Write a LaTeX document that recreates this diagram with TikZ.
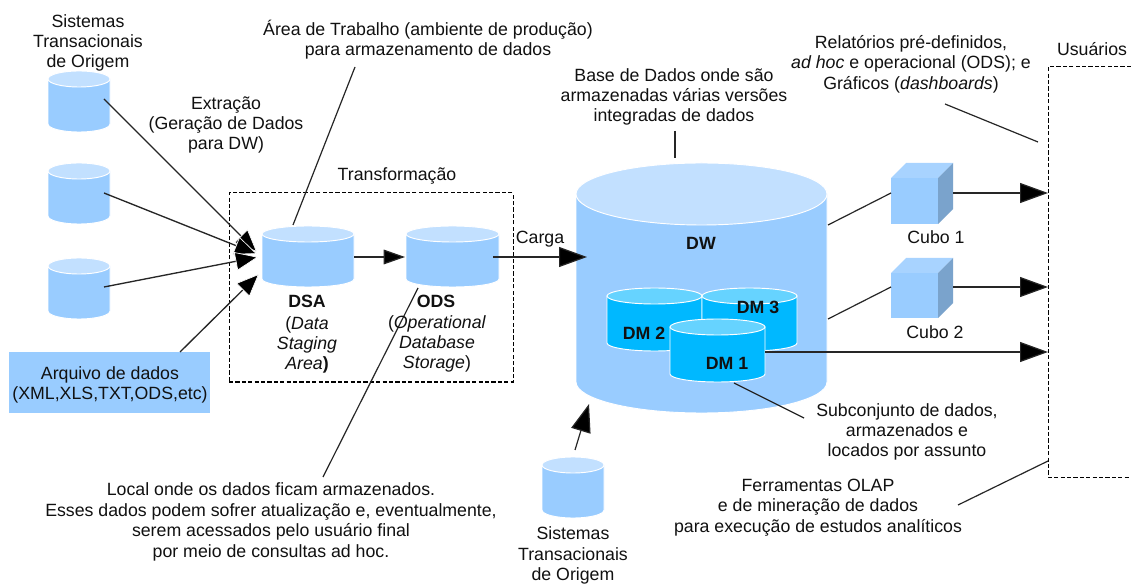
\documentclass[tikz,border=0pt]{standalone}
\usepackage{fontspec}
\setmainfont{Liberation Sans}
\usetikzlibrary{arrows.meta}
\definecolor{cylbody}{HTML}{99CCFF}
\definecolor{cyltop}{HTML}{C2E0FF}
\definecolor{dmbody}{HTML}{00B8FF}
\definecolor{dmtop}{HTML}{66D3FF}
\definecolor{cubeside}{HTML}{7AA3CC}
\definecolor{cubetop}{HTML}{A8D3FF}
\definecolor{inktext}{HTML}{111111}
\tikzset{
  x=0.75pt,y=-0.75pt,
  lbl/.style={font=\fontsize{13.3pt}{15.3pt}\selectfont,text=inktext,align=center,inner sep=0pt,anchor=center,yshift=-1.5pt},
  boldlbl/.style={lbl,font=\fontsize{13.3pt}{15.3pt}\selectfont\bfseries},
  leader/.style={draw=black!85,line width=0.9pt},
  flow/.style={draw=black!85,line width=0.9pt,-{Triangle[length=21pt,width=15pt,fill=black]}},
  smallflow/.style={draw=black!85,line width=0.9pt,-{Triangle[length=16pt,width=11pt,fill=black]}},
  bigflow/.style={draw=black!85,line width=0.9pt,-{Triangle[length=21pt,width=15pt,fill=black]}},
  extract/.style={draw=black!85,line width=1pt,-{Triangle[length=17pt,width=14pt,fill=black,color=white,line width=0.5pt]}},
  dashbox/.style={draw=black,line width=0.75pt,dash pattern=on 3.2pt off 1.6pt},
}
% \cylshape{name}{left}{right}{top}{bottom}{ry}{body}{top colour}
\newcommand{\cylshape}[8]{%
  \path[fill=#7,draw=white,line width=0.7pt]
    (#2,#4+#6) -- (#2,#5-#6) arc[start angle=180,end angle=0,x radius={(#3-#2)/2},y radius=#6]
    -- (#3,#4+#6) -- cycle;
  \path[fill=#8,draw=white,line width=0.7pt] ({(#2+#3)/2},#4+#6) ellipse[x radius={(#3-#2)/2},y radius=#6];
  \coordinate (#1) at ({(#2+#3)/2},{(#4+#5)/2});
}
% \cubeshape{name}{left}{fronttop}{bottom}
\newcommand{\cubeshape}[4]{%
  \fill[cylbody] (#2,#3) rectangle (#2+47,#4);
  \fill[cubetop] (#2,#3) -- (#2+15,#3-15) -- (#2+62,#3-15) -- (#2+47,#3) -- cycle;
  \fill[cubeside] (#2+47,#3) -- (#2+62,#3-15) -- (#2+62,#4-15) -- (#2+47,#4) -- cycle;
  \coordinate (#1) at (#2+23,{(#3+#4)/2});
}
\begin{document}
\begin{tikzpicture}
\useasboundingbox (0,0) rectangle (1131,584);
\fill[white] (0,0) rectangle (1131,584);

% sources
\cylshape{srcA}{48}{110}{71}{132}{8}{cylbody}{cyltop}
\cylshape{srcB}{48}{110}{163}{224}{8}{cylbody}{cyltop}
\cylshape{srcC}{48}{110}{258}{319}{8}{cylbody}{cyltop}
\cylshape{dsa}{262}{354}{226}{287}{8}{cylbody}{cyltop}
\cylshape{ods}{406}{499}{226}{287}{8}{cylbody}{cyltop}
\cylshape{srcD}{542}{604}{457}{518}{8}{cylbody}{cyltop}
% DW
\cylshape{dw}{576}{827}{163}{413}{31}{cylbody}{cyltop}
\cylshape{dmB}{607}{702}{288}{351}{8}{dmbody}{dmtop}
\cylshape{dmC}{702}{797}{288}{351}{8}{dmbody}{dmtop}
\cylshape{dmA}{670}{765}{319}{382}{8}{dmbody}{dmtop}
% cubes
\cubeshape{cubeA}{891}{178}{224}
\cubeshape{cubeB}{891}{273}{318}
% file box
\node[fill=cylbody,minimum width=151pt,minimum height=46pt,inner sep=0pt] (file) at (109.5,382.5) {};

% dashed frames
\node[dashbox,minimum width=213pt,minimum height=141.75pt,inner sep=0pt] (transbox) at (371,287.5) {};
\coordinate (usrTL) at (1131,67);
\coordinate (usrA) at (1048,67);
\coordinate (usrB) at (1048,477);
\coordinate (usrBR) at (1131,477);
\draw[dashbox] (usrTL) -- (usrA) -- (usrB) -- (usrBR);

% connector end points
\coordinate (a1) at (104,99);   \coordinate (a1t) at (257,252);
\coordinate (a2) at (104,193);  \coordinate (a2t) at (257,254);
\coordinate (a3) at (104,287);  \coordinate (a3t) at (258,257);
\coordinate (a4) at (180,352);  \coordinate (a4t) at (259,274);
\coordinate (l1) at (355,67);   \coordinate (l1e) at (293,225);
\coordinate (l2) at (323,477);  \coordinate (l2e) at (418,288);
\coordinate (d1) at (354,257);  \coordinate (o1) at (405,257);
\coordinate (o2) at (493,257);  \coordinate (dwin) at (587,257);
\coordinate (base1) at (675,131); \coordinate (base2) at (675,158);
\coordinate (rel1) at (945,104);  \coordinate (rel2) at (1038,142);
\coordinate (dwc1) at (828,225);  \coordinate (c1l) at (891,193);
\coordinate (dwc2) at (828,319);  \coordinate (c2l) at (891,287);
\coordinate (c1r) at (953,193);   \coordinate (u1) at (1048,193);
\coordinate (c2r) at (953,287);   \coordinate (u2) at (1048,287);
\coordinate (m1r) at (765,352);   \coordinate (u3) at (1048,352);
\coordinate (sub1) at (734,383);  \coordinate (sub2) at (804,418);
\coordinate (fer1) at (958,505);  \coordinate (fer2) at (1048,461);
\coordinate (s1) at (575,450);    \coordinate (s1t) at (589,404);

% connectors
\draw[extract] (a1) -- (a1t);
\draw[extract] (a2) -- (a2t);
\draw[extract] (a3) -- (a3t);
\draw[extract] (a4) -- (a4t);
\draw[leader] (l1) -- (l1e);
\draw[leader] (l2) -- (l2e);
\draw[smallflow] (d1) -- (o1);
\draw[flow] (o2) -- (dwin);
\draw[leader,line width=1.5pt] (base1) -- (base2);
\draw[leader] (rel1) -- (rel2);
\draw[leader] (dwc1) -- (c1l);
\draw[leader] (dwc2) -- (c2l);
\draw[bigflow] (c1r) -- (u1);
\draw[bigflow] (c2r) -- (u2);
\draw[bigflow] (m1r) -- (u3);
\draw[leader] (sub1) -- (sub2);
\draw[leader] (fer1) -- (fer2);
\draw[flow] (s1) -- (s1t);

% labels
\node[lbl] (t1) at (88,41) {Sistemas\\Transacionais\\de Origem};
\node[lbl] (t2) at (428,37.5) {Área de Trabalho (ambiente de produção)\\para armazenamento de dados};
\node[lbl] (t3) at (226,123) {Extração\\(Geração de Dados\\para DW)};
\node[lbl] (t4) at (397,174) {Transformação};
\node[lbl] (t5) at (540,237) {Carga};
\node[boldlbl] (t6) at (307,299) {DSA};
\node[lbl] (t7) at (307,343) {(\textit{Data}\\\textit{Staging}\\\textit{Area}\textbf{)}};
\node[boldlbl] (t8) at (436,299) {ODS};
\node[lbl] (t9) at (437,342) {(\textit{Operational}\\\textit{Database}\\\textit{Storage})};
\node[lbl] (t10) at (674,95) {Base de Dados onde são\\armazenadas várias versões\\integradas de dados};
\node[lbl] (t11) at (911,62) {Relatórios pré-definidos,\\\textit{ad hoc} e operacional (ODS); e\\Gráficos (\textit{dashboards})};
\node[lbl] (t12) at (1092,47) {Usuários};
\node[boldlbl] (t13) at (701,241) {DW};
\node[lbl] (t14) at (936,235) {Cubo 1};
\node[lbl] (t15) at (935,330) {Cubo 2};
\node[boldlbl] (t16) at (758,305) {DM 3};
\node[boldlbl] (t17) at (644,331) {DM 2};
\node[boldlbl] (t18) at (727,361) {DM 1};
\node[lbl] (t19) at (907,430) {Subconjunto de dados,\\armazenados e\\locados por assunto};
\node[lbl] (t20) at (818,505.5) {Ferramentas OLAP\\e de mineração de dados\\para execução de estudos analíticos};
\node[lbl] (t21) at (271,520) {Local onde os dados ficam armazenados.\\Esses dados podem sofrer atualização e, eventualmente,\\serem acessados pelo usuário final\\por meio de consultas ad hoc.};
\node[lbl] (t22) at (573,553.5) {Sistemas\\Transacionais\\de Origem};
\node[lbl] (t23) at (110,383) {Arquivo de dados\\(XML,XLS,TXT,ODS,etc)};
\end{tikzpicture}
\end{document}
